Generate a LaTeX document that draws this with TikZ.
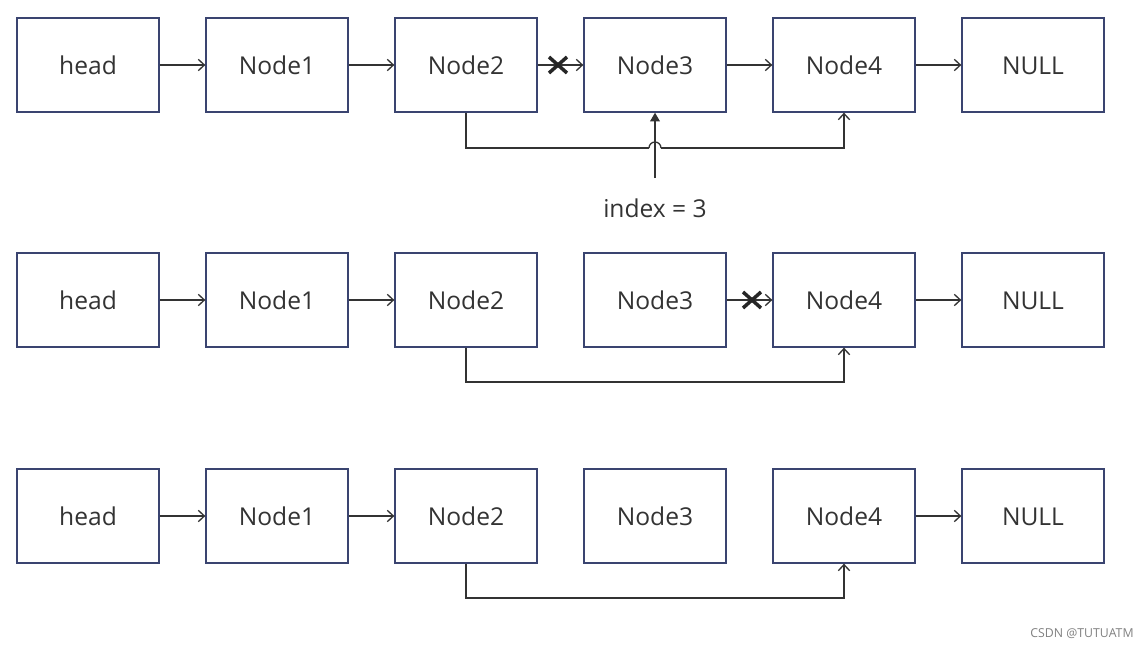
\documentclass[tikz,border=0pt]{standalone}
\usepackage{fontspec}
\setmainfont{Open Sans}
\usetikzlibrary{arrows.meta}
\definecolor{boxblue}{RGB}{58,68,112}
\definecolor{inkgray}{RGB}{51,51,51}
\begin{document}
\begin{tikzpicture}[x=0.02cm,y=-0.02cm,
	box/.style={draw=boxblue,line width=0.75pt,minimum width=2.84cm,minimum height=1.88cm,inner sep=0pt,text height=10.5pt,text depth=0pt,text=inkgray,font=\fontsize{14}{16}\selectfont},
	link/.style={draw=inkgray,line width=0.75pt,-{Straight Barb[length=3.5pt,width=6.5pt]}},
	pointer/.style={draw=inkgray,line width=0.9pt,-{Triangle[length=5pt,width=5.5pt]}},
	cutmark/.style={draw=black!85,line width=2pt}]
			\def\cut(#1){\draw[cutmark] (#1) +(-9,-8) -- +(9,8) (#1) +(-9,8) -- +(9,-8);}
			\useasboundingbox (0,0) rectangle (1147,649);
			% three rows of the list
			\foreach \r/\y in {1/65,2/300,3/516}
			\foreach \t [count=\i from 0] in {head,Node1,Node2,Node3,Node4,NULL}
			\node[box] (n\r\i) at (88+189*\i,\y) {\t};
			% row 1
			\foreach \a/\b in {0/1,1/2,2/3,3/4,4/5}\draw[link] (n1\a.east) -- (n1\b.west);
			\coordinate (hopL) at (649,148);
			\coordinate (hopR) at (661,148);
			\draw[link,-] (n12.south) |- (hopL);
			\draw[link,-] (hopL) arc[start angle=180,end angle=360,radius=6];
			\draw[link] (hopR) -| (n14.south);
			\coordinate (cut1) at (558,65);
			\cut(cut1)
			\node[text=inkgray,font=\fontsize{14}{16}\selectfont] (idx) at (655,208) {index = 3};
			\coordinate (idxtop) at (655,178);
			\draw[pointer] (idxtop) -- (n13.south);
			% row 2
			\foreach \a/\b in {0/1,1/2,3/4,4/5}\draw[link] (n2\a.east) -- (n2\b.west);
			\draw[link] (n22.south) |- (655,382) -| (n24.south);
			\coordinate (cut2) at (752,300);
			\cut(cut2)
			% row 3
			\foreach \a/\b in {0/1,1/2,4/5}\draw[link] (n3\a.east) -- (n3\b.west);
			\draw[link] (n32.south) |- (655,598) -| (n34.south);
			\node[text=gray,font=\fontsize{7}{8}\selectfont] (mark) at (1082,634) {CSDN @TUTUATM};
\end{tikzpicture}
\end{document}
